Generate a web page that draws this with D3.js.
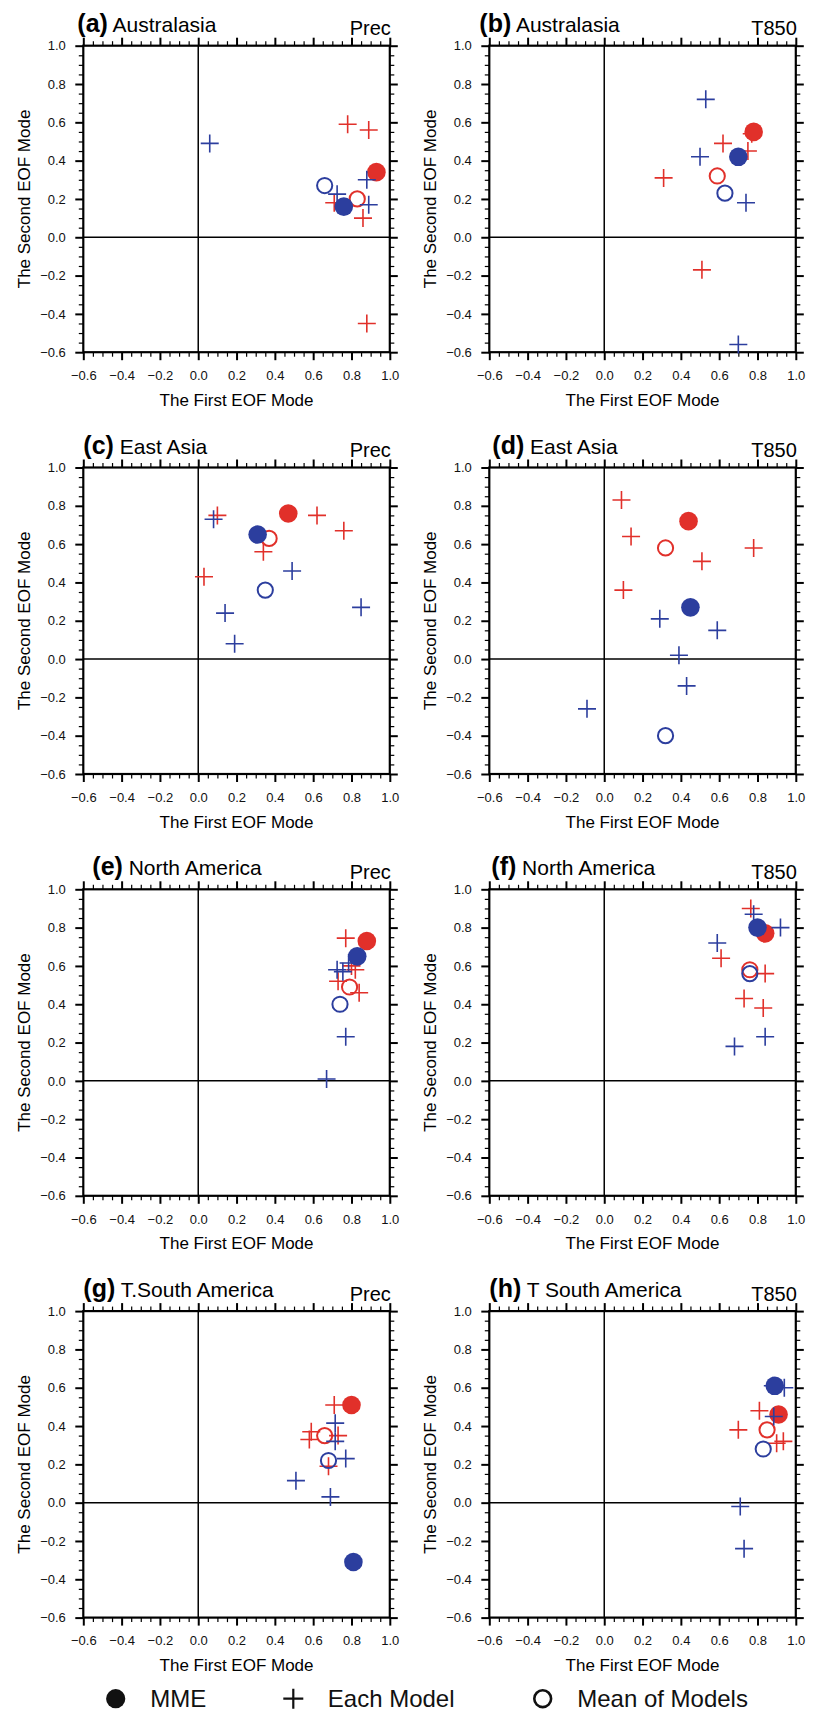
<!DOCTYPE html>
<html>
<head>
<meta charset="utf-8">
<script src="https://cdn.jsdelivr.net/npm/d3@7"></script>
<style>
body { margin: 0; background: #fff; }
svg { display: block; font-family: "Liberation Sans", Arial, Helvetica, sans-serif; }
</style>
</head>
<body>
<div id="chart"></div>
<script>
// panel meta
const panelLetters = ['a', 'b', 'c', 'd', 'e', 'f', 'g', 'h'];
const regionNames = ['Australasia', 'Australasia', 'East Asia', 'East Asia',
    'North America', 'North America', 'T.South America', 'T South America'];
const variableNames = ['Prec', 'T850', 'Prec', 'T850', 'Prec', 'T850', 'Prec', 'T850'];

const axisTicks = [-0.6, -0.4, -0.2, 0.0, 0.2, 0.4, 0.6, 0.8, 1.0];

// [first EOF, second EOF] per panel
const redMME = [[0.93, 0.34], [0.78, 0.55], [0.47, 0.76], [0.44, 0.72],
    [0.88, 0.73], [0.84, 0.77], [0.80, 0.51], [0.91, 0.46]];
const blueMME = [[0.76, 0.16], [0.70, 0.42], [0.31, 0.65], [0.45, 0.27],
    [0.83, 0.65], [0.80, 0.80], [0.81, -0.31], [0.89, 0.61]];
const redMean = [[0.83, 0.20], [0.59, 0.32], [0.37, 0.63], [0.32, 0.58],
    [0.79, 0.49], [0.76, 0.58], [0.66, 0.35], [0.85, 0.38]];
const blueMean = [[0.66, 0.27], [0.63, 0.23], [0.35, 0.36], [0.32, -0.40],
    [0.74, 0.40], [0.76, 0.56], [0.68, 0.22], [0.83, 0.28]];

const redModels = [
    [[0.78, 0.59], [0.89, 0.56], [0.71, 0.18], [0.86, 0.10], [0.88, -0.45]],
    [[0.77, 0.54], [0.62, 0.49], [0.75, 0.45], [0.31, 0.31], [0.51, -0.17]],
    [[0.10, 0.75], [0.62, 0.75], [0.76, 0.67], [0.34, 0.56], [0.03, 0.43]],
    [[0.09, 0.83], [0.14, 0.64], [0.78, 0.58], [0.51, 0.51], [0.10, 0.36]],
    [[0.77, 0.745], [0.80, 0.60], [0.82, 0.58], [0.73, 0.52], [0.84, 0.46]],
    [[0.765, 0.90], [0.61, 0.64], [0.84, 0.56], [0.73, 0.43], [0.83, 0.38]],
    [[0.71, 0.51], [0.59, 0.37], [0.58, 0.33], [0.73, 0.35], [0.68, 0.19]],
    [[0.81, 0.48], [0.70, 0.38], [0.90, 0.31], [0.935, 0.32]]
];
const blueModels = [
    [[0.06, 0.49], [0.88, 0.30], [0.725, 0.225], [0.89, 0.17]],
    [[0.53, 0.72], [0.50, 0.42], [0.74, 0.18], [0.70, -0.56]],
    [[0.08, 0.73], [0.49, 0.46], [0.14, 0.24], [0.85, 0.27], [0.19, 0.08]],
    [[0.29, 0.21], [0.59, 0.15], [0.39, 0.02], [0.43, -0.14], [-0.09, -0.26]],
    [[0.725, 0.58], [0.755, 0.57], [0.785, 0.615], [0.77, 0.23], [0.67, 0.01]],
    [[0.78, 0.87], [0.92, 0.80], [0.59, 0.72], [0.84, 0.23], [0.68, 0.18]],
    [[0.715, 0.415], [0.715, 0.32], [0.77, 0.23], [0.51, 0.115], [0.69, 0.03]],
    [[0.88, 0.61], [0.94, 0.60], [0.885, 0.45], [0.71, -0.02], [0.73, -0.24]]
];

const RED = '#e1302a';
const BLUE = '#2c3e9e';

const W = 820, H = 1713;
const size = 306.5;
const colLeft = [83.3, 489.3];
const rowTop = [45.7, 467.5, 889.3, 1311.1];
const labelShift = [-6, -10, 0, 3, 9, 2, 0, 0];

const svg = d3.select('#chart').append('svg')
    .attr('width', W).attr('height', H);

const x = d3.scaleLinear().domain([-0.6, 1.0]).range([0, size]);
const y = d3.scaleLinear().domain([-0.6, 1.0]).range([size, 0]);

const minorTicks = d3.range(-0.6, 1.0001, 0.05)
    .filter(v => Math.abs(Math.round(v * 5) - v * 5) > 0.01);

const plusPath = (px, py, h) => `M${px - h},${py}H${px + h}M${px},${py - h}V${py + h}`;

function styleAxis(g) {
    g.select('.domain').remove();
    g.selectAll('line').attr('stroke', '#000');
}

panelLetters.forEach((letter, i) => {
    const left = colLeft[i % 2];
    const top = rowTop[Math.floor(i / 2)];
    const g = svg.append('g').attr('transform', `translate(${left},${top})`);

    // minor ticks, all four sides
    const minorAxes = [
        [d3.axisLeft(y), null], [d3.axisRight(y), `translate(${size},0)`],
        [d3.axisTop(x), null], [d3.axisBottom(x), `translate(0,${size})`]
    ];
    minorAxes.forEach(([ax, tr]) => {
        const a = g.append('g')
            .call(ax.tickValues(minorTicks).tickSize(4.5).tickFormat(''))
            .call(styleAxis);
        if (tr) a.attr('transform', tr);
        a.selectAll('line').attr('stroke-width', 1.2);
    });

    // major ticks
    const fmt = d3.format('.1f');
    const yl = g.append('g')
        .call(d3.axisLeft(y).tickValues(axisTicks).tickSize(8).tickPadding(9.5).tickFormat(fmt))
        .call(styleAxis);
    const yr = g.append('g').attr('transform', `translate(${size},0)`)
        .call(d3.axisRight(y).tickValues(axisTicks).tickSize(8).tickFormat(''))
        .call(styleAxis);
    const xt = g.append('g')
        .call(d3.axisTop(x).tickValues(axisTicks).tickSize(8).tickFormat(''))
        .call(styleAxis);
    const xb = g.append('g').attr('transform', `translate(0,${size})`)
        .call(d3.axisBottom(x).tickValues(axisTicks).tickSize(8).tickPadding(10.5).tickFormat(fmt))
        .call(styleAxis);
    [yl, yr, xt, xb].forEach(a => a.selectAll('line').attr('stroke-width', 2));
    [yl, xb].forEach(a => a.selectAll('text')
        .attr('font-size', 13).attr('fill', '#111')
        .attr('font-family', '"Liberation Sans", Arial, sans-serif'));

    // zero lines
    g.append('line').attr('x1', 0).attr('x2', size).attr('y1', y(0)).attr('y2', y(0))
        .attr('stroke', '#000').attr('stroke-width', 1.5);
    g.append('line').attr('x1', x(0)).attr('x2', x(0)).attr('y1', 0).attr('y2', size)
        .attr('stroke', '#000').attr('stroke-width', 1.5);

    // frame
    g.append('rect').attr('width', size).attr('height', size)
        .attr('fill', 'none').attr('stroke', '#000').attr('stroke-width', 2.2);

    // marks: red first, blue on top
    const layers = [
        [redModels[i], redMME[i], redMean[i], RED],
        [blueModels[i], blueMME[i], blueMean[i], BLUE]
    ];
    layers.forEach(([models, mme, mean, color]) => {
        g.append('g').selectAll('path').data(models).enter().append('path')
            .attr('d', d => plusPath(x(d[0]), y(d[1]), 9))
            .attr('stroke', color).attr('stroke-width', 1.6).attr('fill', 'none');
        g.append('circle').attr('cx', x(mme[0])).attr('cy', y(mme[1])).attr('r', 9.3)
            .attr('fill', color);
        g.append('circle').attr('cx', x(mean[0])).attr('cy', y(mean[1])).attr('r', 7.6)
            .attr('fill', 'none').attr('stroke', color).attr('stroke-width', 2);
    });

    // titles
    const title = g.append('text')
        .attr('x', labelShift[i]).attr('y', -14);
    title.append('tspan').attr('font-weight', 'bold').attr('font-size', 25).text(`(${letter})`);
    title.append('tspan').attr('font-size', 21).text(' ' + regionNames[i]);

    g.append('text').attr('x', size + 1).attr('y', -10.4)
        .attr('text-anchor', 'end').attr('font-size', 20).text(variableNames[i]);

    g.append('text').attr('x', size / 2).attr('y', size + 53.5)
        .attr('text-anchor', 'middle').attr('font-size', 17).text('The First EOF Mode');

    g.append('text')
        .attr('transform', `translate(-53.5,${size / 2}) rotate(-90)`)
        .attr('text-anchor', 'middle').attr('font-size', 17).text('The Second EOF Mode');
});

// legend
const legendLabels = ['MME', 'Each Model', 'Mean of Models'];
const legendX = [115.7, 293.3, 542.7];
const ly = 1698.7;
const lg = svg.append('g');
lg.append('circle').attr('cx', legendX[0]).attr('cy', ly).attr('r', 9.6).attr('fill', '#111');
lg.append('path').attr('d', plusPath(legendX[1], ly, 10))
    .attr('stroke', '#111').attr('stroke-width', 2.2);
lg.append('circle').attr('cx', legendX[2]).attr('cy', ly).attr('r', 8.4)
    .attr('fill', 'none').attr('stroke', '#111').attr('stroke-width', 2.6);
legendLabels.forEach((t, k) => {
    lg.append('text').attr('x', legendX[k] + 34.5).attr('y', ly + 8.4)
        .attr('font-size', 24).attr('fill', '#111').text(t);
});
</script>
</body>
</html>
